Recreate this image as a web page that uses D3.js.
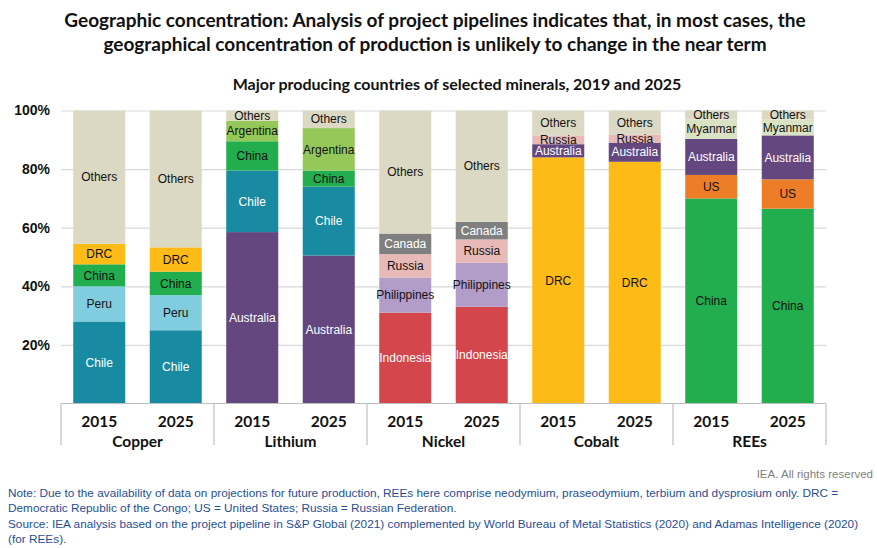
<!DOCTYPE html>
<html>
<head>
<meta charset="utf-8">
<script src="https://cdn.jsdelivr.net/npm/d3@7"></script>
<style>
  body { margin: 0; background: #fff; }
  svg { display: block; }
  .title { font-family: Lato, sans-serif; font-weight: 700; font-size: 19px; fill: #111; }
  .sub { font-family: Lato, sans-serif; font-weight: 700; font-size: 16px; fill: #111; }
  .seg { font-family: 'Liberation Sans', Arial, sans-serif; font-size: 12px; }
  .note { font-family: 'Liberation Sans', Arial, sans-serif; font-size: 11.8px; fill: #1f4e99; }
</style>
</head>
<body>
<svg id="chart" width="877" height="548"></svg>
<script>
// values (% share of production)
const minerals = ['Copper', 'Lithium', 'Nickel', 'Cobalt', 'REEs']
const years = ['2015', '2025']

const copperCountries = ['Chile', 'Peru', 'China', 'DRC', 'Others']
const copper2015 = [28, 12, 7.5, 7, 45.5]
const copper2025 = [25, 12, 8, 8.3, 46.7]

const lithiumCountries = ['Australia', 'Chile', 'China', 'Argentina', 'Others']
const lithium2015 = [58.5, 21, 10, 7, 3.5]
const lithium2025 = [50.5, 23.5, 5.5, 14.5, 6]

const nickelCountries = ['Indonesia', 'Philippines', 'Russia', 'Canada', 'Others']
const nickel2015 = [31, 12, 8, 7, 42]
const nickel2025 = [33, 15, 8, 6, 38]

const cobaltCountries = ['DRC', 'Australia', 'Russia', 'Others']
const cobalt2015 = [84, 4.5, 3, 8.5]
const cobalt2025 = [82.5, 6.5, 2.7, 8.3]

const reeCountries = ['China', 'US', 'Australia', 'Myanmar', 'Others']
const ree2015 = [70, 8, 12.3, 6.7, 3]
const ree2025 = [66.5, 10, 15, 5.5, 3]

const yTicks = [20, 40, 60, 80, 100]

const colors = {
    Chile: '#188ba2', Peru: '#80cde0', China: '#22ae4e', DRC: '#fcbb16',
    Others: '#dbd9c3', Australia: '#64477f', Argentina: '#94c95a',
    Indonesia: '#d3464c', Philippines: '#b29cc8', Russia: '#e8bab7',
    Canada: '#7f7f7f', US: '#ee7d28', Myanmar: '#d9e3c4'
}
const whiteText = ['Chile', 'Australia', 'Indonesia', 'Canada']

const groups = [
    {countries: copperCountries, values: [copper2015, copper2025]},
    {countries: lithiumCountries, values: [lithium2015, lithium2025]},
    {countries: nickelCountries, values: [nickel2015, nickel2025]},
    {countries: cobaltCountries, values: [cobalt2015, cobalt2025]},
    {countries: reeCountries, values: [ree2015, ree2025]}
]

let bars = []
groups.forEach(function (g, gi) {
    years.forEach(function (yr, yi) {
        let cum = d3.cumsum(g.values[yi])
        let segs = g.countries.map(function (c, i) {
            return {country: c, y0: cum[i] - g.values[yi][i], y1: cum[i]}
        })
        bars.push({key: minerals[gi] + '-' + yr, mineral: minerals[gi], year: yr, segs: segs})
    })
})

const svg = d3.select('#chart')
const plotLeft = 61, plotRight = 826, plotTop = 110.5, plotBottom = 403.5

let xScale = d3.scaleBand()
    .domain(bars.map(d => d.key))
    .range([plotLeft, plotRight])
    .paddingInner(0.32)
    .paddingOuter(0.16)
let yScale = d3.scaleLinear()
    .domain([0, 100])
    .range([plotBottom, plotTop])
let groupScale = d3.scaleBand()
    .domain(minerals)
    .range([plotLeft, plotRight])

// titles
svg.append('text').attr('class', 'title').attr('x', 435).attr('y', 27)
    .attr('text-anchor', 'middle')
    .text('Geographic concentration: Analysis of project pipelines indicates that, in most cases, the')
svg.append('text').attr('class', 'title').attr('x', 435).attr('y', 51)
    .attr('text-anchor', 'middle')
    .text('geographical concentration of production is unlikely to change in the near term')
svg.append('text').attr('class', 'sub').attr('x', 457).attr('y', 90)
    .attr('text-anchor', 'middle')
    .text('Major producing countries of selected minerals, 2019 and 2025')

// gridlines + y labels
let yAxis = d3.axisLeft(yScale).tickValues(yTicks)
    .tickSize(-(plotRight - plotLeft)).tickFormat(d => d + '%')
let yg = svg.append('g').attr('transform', `translate(${plotLeft},0)`).call(yAxis)
yg.select('.domain').remove()
yg.selectAll('.tick line').attr('stroke', '#d9d9d9').attr('stroke-width', 1.2)
yg.selectAll('.tick text')
    .attr('x', -11)
    .style('font-family', "'Liberation Sans', Arial, sans-serif")
    .style('font-size', '14px').style('font-weight', 'bold').attr('fill', '#111')

// bars
let barG = svg.selectAll('.bar').data(bars).enter().append('g')
    .attr('class', 'bar')
    .attr('transform', d => `translate(${xScale(d.key)},0)`)
barG.selectAll('rect').data(d => d.segs).enter().append('rect')
    .attr('x', 0)
    .attr('width', xScale.bandwidth())
    .attr('y', d => yScale(d.y1))
    .attr('height', d => yScale(d.y0) - yScale(d.y1))
    .attr('fill', d => colors[d.country])
barG.selectAll('text').data(d => d.segs).enter().append('text')
    .attr('class', 'seg')
    .attr('x', xScale.bandwidth() / 2)
    .attr('y', d => yScale((d.y0 + d.y1) / 2))
    .attr('dy', '0.35em')
    .attr('text-anchor', 'middle')
    .attr('fill', d => whiteText.includes(d.country) ? '#fff' : '#111')
    .text(d => d.country)

// category axis box
let axisG = svg.append('g')
axisG.append('line').attr('x1', plotLeft).attr('x2', plotRight)
    .attr('y1', plotBottom).attr('y2', plotBottom)
    .attr('stroke', '#bfbfbf').attr('stroke-width', 1.2)
let seps = minerals.map(m => groupScale(m)).concat([plotRight])
axisG.selectAll('.sep').data(seps).enter().append('line')
    .attr('x1', d => d).attr('x2', d => d)
    .attr('y1', plotBottom).attr('y2', 445)
    .attr('stroke', '#bfbfbf').attr('stroke-width', 1.2)
axisG.selectAll('.yr').data(bars).enter().append('text')
    .attr('x', d => xScale(d.key) + xScale.bandwidth() / 2)
    .attr('y', 427)
    .attr('text-anchor', 'middle')
    .style('font-family', 'Lato, sans-serif').style('font-weight', 'bold')
    .style('font-size', '15.5px').attr('fill', '#111')
    .text(d => d.year)
axisG.selectAll('.min').data(minerals).enter().append('text')
    .attr('x', d => groupScale(d) + groupScale.bandwidth() / 2)
    .attr('y', 447)
    .attr('text-anchor', 'middle')
    .style('font-family', 'Lato, sans-serif').style('font-weight', 'bold')
    .style('font-size', '15.5px').attr('fill', '#111')
    .text(d => d)

// footer
svg.append('text').attr('x', 873).attr('y', 478).attr('text-anchor', 'end')
    .style('font-family', "'Liberation Sans', Arial, sans-serif").style('font-size', '11.5px')
    .attr('fill', '#7f7f7f').text('IEA. All rights reserved')
const notes = [
    'Note: Due to the availability of data on projections for future production, REEs here comprise neodymium, praseodymium, terbium and dysprosium only. DRC =',
    'Democratic Republic of the Congo; US = United States; Russia = Russian Federation.',
    'Source: IEA analysis based on the project pipeline in S&P Global (2021) complemented by World Bureau of Metal Statistics (2020) and Adamas Intelligence (2020)',
    '(for REEs).'
]
const noteY = [497, 512, 528, 543]
svg.selectAll('.note').data(notes).enter().append('text')
    .attr('class', 'note')
    .attr('x', 8).attr('y', (d, i) => noteY[i])
    .text(d => d)
</script>
</body>
</html>
